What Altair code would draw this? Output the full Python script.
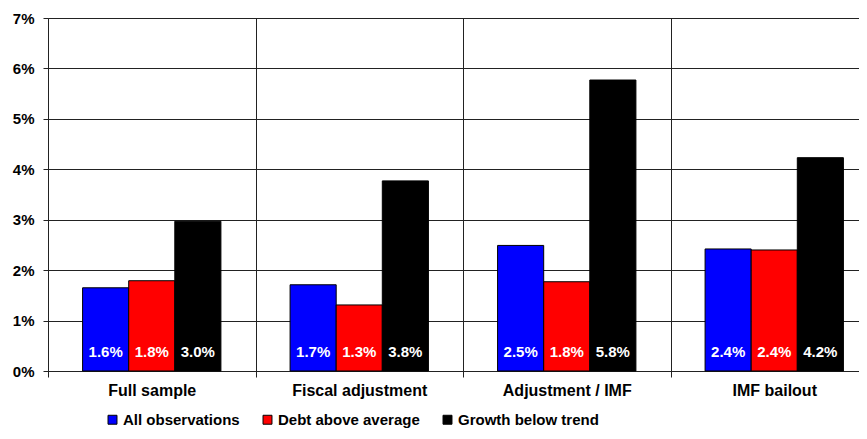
import altair as alt
import pandas as pd

categories = ["Full sample", "Fiscal adjustment", "Adjustment / IMF", "IMF bailout"]
series = ["All observations", "Debt above average", "Growth below trend"]
all_obs = [1.65, 1.71, 2.49, 2.42]
debt_above = [1.79, 1.31, 1.77, 2.40]
growth_below = [2.97, 3.77, 5.77, 4.23]
label_all = ["1.6%", "1.7%", "2.5%", "2.4%"]
label_debt = ["1.8%", "1.3%", "1.8%", "2.4%"]
label_growth = ["3.0%", "3.8%", "5.8%", "4.2%"]
colors = ["#0000FF", "#FF0000", "#000000"]
y_ticks = [0, 1, 2, 3, 4, 5, 6, 7]

rows = []
for s, vals, labs in zip(series, [all_obs, debt_above, growth_below],
                         [label_all, label_debt, label_growth]):
    for c, v, l in zip(categories, vals, labs):
        rows.append({"category": c, "series": s, "value": v, "label": l})
df = pd.DataFrame(rows)

FONT = "Liberation Sans"

x_enc = alt.X("category:N", sort=categories, title=None,
              scale=alt.Scale(paddingInner=0, paddingOuter=0),
              axis=alt.Axis(labelAngle=0, labelFontSize=16, labelFontWeight="bold",
                            labelColor="black", labelFont=FONT, tickBand="extent",
                            ticks=True, tickSize=6, tickColor="#222",
                            grid=True, gridColor="#222", gridWidth=1,
                            domainColor="#222", labelPadding=5))
xoff_enc = alt.XOffset("series:N", sort=series,
                       scale=alt.Scale(paddingInner=0, paddingOuter=0.75))

bars = alt.Chart(df).mark_bar(stroke="black", strokeWidth=1).encode(
    x=x_enc,
    xOffset=xoff_enc,
    y=alt.Y("value:Q", title=None,
            scale=alt.Scale(domain=[0, 7], nice=False),
            axis=alt.Axis(values=y_ticks, labelExpr="datum.value + '%'",
                          labelFontSize=15, labelFontWeight="bold", labelFont=FONT,
                          labelColor="black", tickSize=5, tickColor="#222",
                          labelPadding=9, grid=True, gridColor="#222", gridWidth=1,
                          domainColor="#222")),
    color=alt.Color("series:N", sort=series,
                    scale=alt.Scale(domain=series, range=colors),
                    legend=alt.Legend(title=None, orient="none", legendX=57, legendY=394,
                                      direction="horizontal", columns=3,
                                      symbolType="square", symbolSize=80,
                                      symbolStrokeColor="black", symbolStrokeWidth=1,
                                      labelFontSize=15, labelFontWeight="bold",
                                      labelFont=FONT, labelColor="black",
                                      labelOffset=3, columnPadding=20, padding=0)),
)

texts = alt.Chart(df).mark_text(color="white", fontWeight="bold", fontSize=15,
                                font=FONT, baseline="middle", align="center",
                                dy=-19).encode(
    x=alt.X("category:N", sort=categories),
    xOffset=alt.XOffset("series:N", sort=series),
    y=alt.datum(0),
    text="label:N",
)

chart = alt.layer(bars, texts).properties(
    width=830, height=353,
    autosize=alt.AutoSizeParams(type="none"),
    padding={"left": 40, "top": 10, "right": -19, "bottom": 60},
).configure_view(stroke=None).configure(background="white")

chart.save("out.html", embed_options={"renderer": "svg", "actions": False})
